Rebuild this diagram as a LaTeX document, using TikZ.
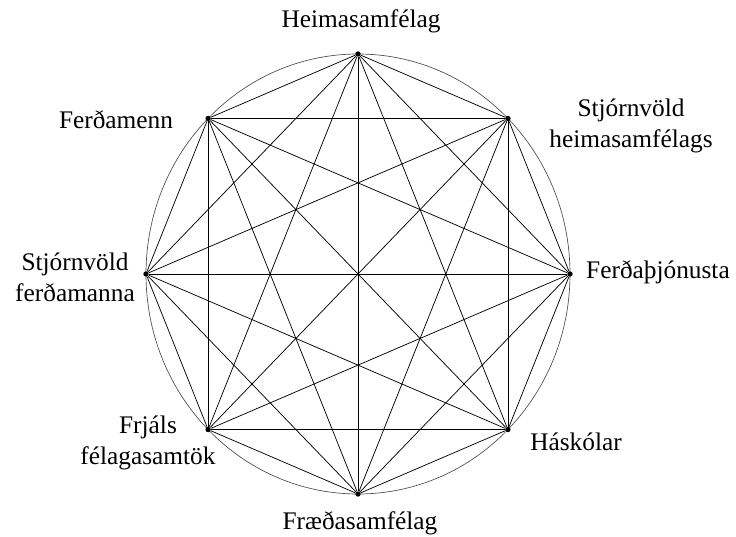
\documentclass[tikz,border=0pt]{standalone}
\usepackage{fontspec}
\setmainfont{Liberation Serif}
\usetikzlibrary{calc}
\begin{document}
\begin{tikzpicture}[x=0.75pt, y=0.75pt,
  pt/.style={circle, fill=black, inner sep=0pt, minimum size=4pt},
  hringur/.style={line width=0.5pt, black!70},
  tengsl/.style={line width=0.55pt, black},
  merki/.style={font=\fontsize{19}{23}\selectfont, align=center}]
  \useasboundingbox (0,0) rectangle (736,536);
  \coordinate (mid) at (358,262);
  \draw[hringur] (mid) ellipse [x radius=212, y radius=220];
  % hagsmunaadilar, efst og rettsaelis
  \foreach \i in {1,...,8}
    \node[pt] (n\i) at ($(mid)+({90-45*(\i-1)}:212 and 220)$) {};
  % allir tengdir ollum
  \foreach \i in {1,...,7} {
    \pgfmathtruncatemacro\k{\i+1}
    \foreach \j in {\k,...,8} \draw[tengsl] (n\i) -- (n\j);
  }
  \node[merki] (heim) at (361,515) {Heimasamfélag};
  \node[merki] (stjh) at (631,410) {Stjórnvöld\\heimasamfélags};
  \node[merki] (ferdth) at (658,264) {Ferðaþjónusta};
  \node[merki] (hask) at (576,94) {Háskólar};
  \node[merki] (fraed) at (360,13) {Fræðasamfélag};
  \node[merki] (frjals) at (148,93) {Frjáls\\félagasamtök};
  \node[merki] (stjf) at (75,259) {Stjórnvöld\\ferðamanna};
  \node[merki] (ferd) at (116,416) {Ferðamenn};
\end{tikzpicture}
\end{document}
